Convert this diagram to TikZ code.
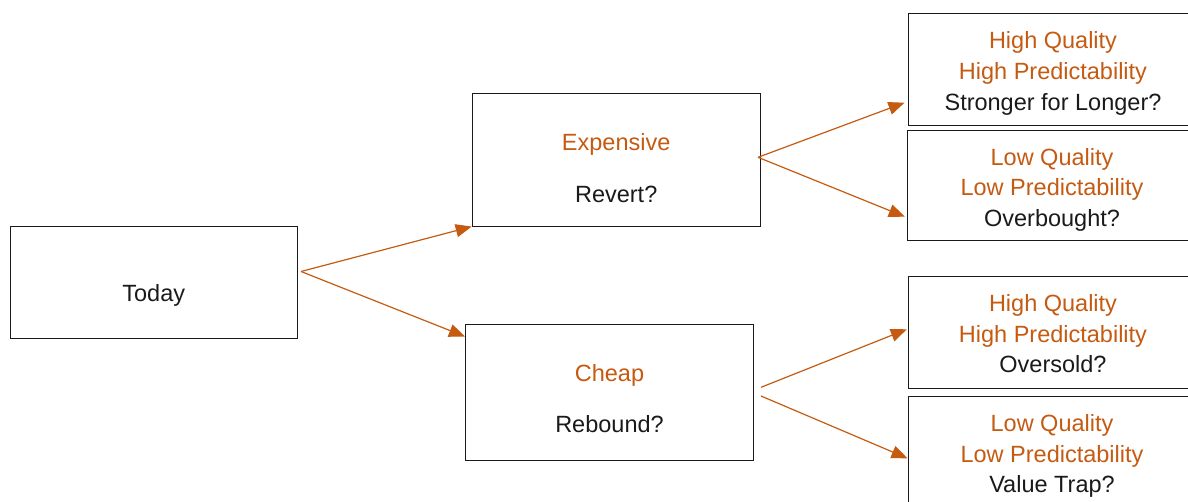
\documentclass[tikz,border=0pt]{standalone}
\usepackage{fontspec}
\setmainfont{Liberation Sans}
\usetikzlibrary{arrows.meta}
\definecolor{rust}{HTML}{C55A11}
\definecolor{ink}{HTML}{1A1A1A}
\tikzset{
  box/.style={draw=ink, line width=1pt, rectangle, inner sep=0pt, minimum width=288pt},
  lbl/.style={anchor=base, inner sep=0pt, text=ink, font=\fontsize{23.5}{28}\selectfont},
  hot/.style={lbl, text=rust},
  link/.style={draw=rust, line width=1.2pt, -{Triangle[length=16pt,width=13pt]}}
}
\begin{document}
\begin{tikzpicture}[x=1pt,y=-1pt]
\useasboundingbox (0,0) rectangle (1188,501);
\clip (0,0) rectangle (1188,501);
% boxes
\node[box, minimum width=287.5pt, minimum height=112pt] (today) at (153.75,282) {};
\node[box, minimum height=132.7pt] (exp) at (616.2,159.7) {};
\node[box, minimum height=136.4pt] (cheap) at (609.5,392.5) {};
\node[box, minimum height=111.7pt] (hqA) at (1052,69.2) {};
\node[box, minimum height=110.7pt] (lqA) at (1051.3,185.4) {};
\node[box, minimum height=111.6pt] (hqB) at (1052.3,332.5) {};
\node[box, minimum height=111.6pt] (lqB) at (1052,452) {};
% labels
\node[lbl] (todayT) at (153.75,301.5) {Today};
\node[hot] (expT) at (616.2,150) {Expensive};
\node[lbl] (expQ) at (616.2,202.7) {Revert?};
\node[hot] (cheapT) at (609.5,381) {Cheap};
\node[lbl] (cheapQ) at (609.5,432.7) {Rebound?};
\node[hot] (hqA1) at (1053,48.3) {High Quality};
\node[hot] (hqA2) at (1053,79.3) {High Predictability};
\node[lbl] (hqA3) at (1053,110) {Stronger for Longer?};
\node[hot] (lqA1) at (1052,165) {Low Quality};
\node[hot] (lqA2) at (1052,195.5) {Low Predictability};
\node[lbl] (lqA3) at (1052,226) {Overbought?};
\node[hot] (hqB1) at (1053,311.7) {High Quality};
\node[hot] (hqB2) at (1053,342) {High Predictability};
\node[lbl] (hqB3) at (1053,372) {Oversold?};
\node[hot] (lqB1) at (1052,431.7) {Low Quality};
\node[hot] (lqB2) at (1052,462.3) {Low Predictability};
\node[lbl] (lqB3) at (1052,492.5) {Value Trap?};
% arrows
\coordinate (todayOut) at (301,271.5);
\coordinate (expOut) at (758,157.3);
\coordinate (cheapOutA) at (761,387.3);
\coordinate (cheapOutB) at (761,396);
\draw[link] (todayOut) -- (exp.south west);
\draw[link] (todayOut) -- ([yshift=-12.7pt]cheap.north west);
\draw[link] (expOut) -- ([yshift=-33.5pt,xshift=-3pt]hqA.west);
\draw[link] (expOut) -- ([yshift=-31.3pt,xshift=-2pt]lqA.west);
\draw[link] (cheapOutA) -- ([yshift=3.2pt,xshift=-1pt]hqB.west);
\draw[link] (cheapOutB) -- ([yshift=-6.3pt]lqB.west);
\end{tikzpicture}
\end{document}
